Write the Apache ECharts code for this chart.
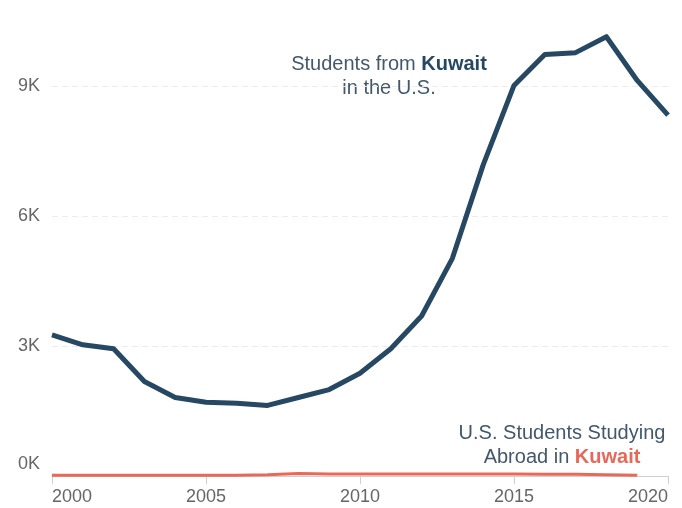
<!DOCTYPE html>
<html>
<head>
<meta charset="utf-8">
<script src="https://cdn.jsdelivr.net/npm/echarts@6/dist/echarts.min.js"></script>
<style>html,body{margin:0;padding:0;background:#fff}#c{width:682px;height:508px}</style>
</head>
<body>
<div id="c"></div>
<script>
const years = [2000,2001,2002,2003,2004,2005,2006,2007,2008,2009,2010,2011,2012,2013,2014,2015,2016,2017,2018,2019,2020];
const kuwaitInUS = [3257,3028,2936,2179,1812,1704,1681,1628,1812,1995,2370,2936,3693,5023,7180,9014,9725,9770,10138,9128,8326];
const abroadYears = [2000,2001,2002,2003,2004,2005,2006,2007,2008,2009,2010,2011,2012,2013,2014,2015,2016,2017,2018,2019];
const usInKuwait = [20,20,20,20,20,20,20,30,60,45,45,45,45,45,45,45,40,40,30,20];
const yTicks = [0,3000,6000,9000];
const xTicks = [2000,2005,2010,2015,2020];

const navy = '#264862';
const red = '#e8685a';
const textCol = '#44586b';
const font = "'Liberation Sans', Arial, sans-serif";

const chart = echarts.init(document.getElementById('c'), null, {renderer:'canvas'});
chart.setOption({
  animation:false,
  backgroundColor:'#fff',
  grid:{left:52,right:14,top:21,bottom:32,containLabel:false},
  xAxis:{
    type:'value', min:xTicks[0], max:xTicks[xTicks.length-1], interval:5,
    axisLine:{show:true,lineStyle:{color:'#cfcfcf',width:1}},
    axisTick:{show:true,length:8,lineStyle:{color:'#cfcfcf'}},
    splitLine:{show:false},
    axisLabel:{color:'#666',fontSize:18,fontFamily:font,margin:12,alignMinLabel:'left',alignMaxLabel:'right',
      formatter:v=>String(v)}
  },
  yAxis:{
    type:'value', min:0, max:10500, interval:3000,
    axisLine:{show:false}, axisTick:{show:false},
    splitLine:{show:true,showMinLine:false,showMaxLine:false,lineStyle:{color:'#ececec',type:[6,4],width:1}},
    axisLabel:{color:'#666',fontSize:18,fontFamily:font,margin:12,
      formatter:v=> yTicks.indexOf(v)<0 ? '' : (v===0 ? '{z|0K}' : (v/1000)+'K'),
      rich:{z:{color:'#666',fontSize:18,fontFamily:font,padding:[0,0,24,0]}}
    }
  },
  series:[
    {type:'line', data:years.map((y,i)=>[y,kuwaitInUS[i]]), showSymbol:false, symbol:'none',
     lineStyle:{color:navy,width:5,join:'round'}, z:3},
    {type:'line', data:abroadYears.map((y,i)=>[y,usInKuwait[i]]), showSymbol:false, symbol:'none',
     lineStyle:{color:red,width:3}, z:2}
  ],
  graphic:[
    {type:'text', x:389, y:52, style:{
      text:'{a|Students from }{b|Kuwait}\n{a|in the U.S.}', align:'center', verticalAlign:'top',
      rich:{a:{fontSize:20,fontFamily:font,fill:textCol,lineHeight:24},
            b:{fontSize:20,fontFamily:font,fontWeight:'bold',fill:navy,lineHeight:24}}}},
    {type:'text', x:562, y:421, style:{
      text:'{a|U.S. Students Studying}\n{a|Abroad in }{b|Kuwait}', align:'center', verticalAlign:'top',
      rich:{a:{fontSize:20,fontFamily:font,fill:textCol,lineHeight:24},
            b:{fontSize:20,fontFamily:font,fontWeight:'bold',fill:red,lineHeight:24}}}}
  ]
});
</script>
</body>
</html>
